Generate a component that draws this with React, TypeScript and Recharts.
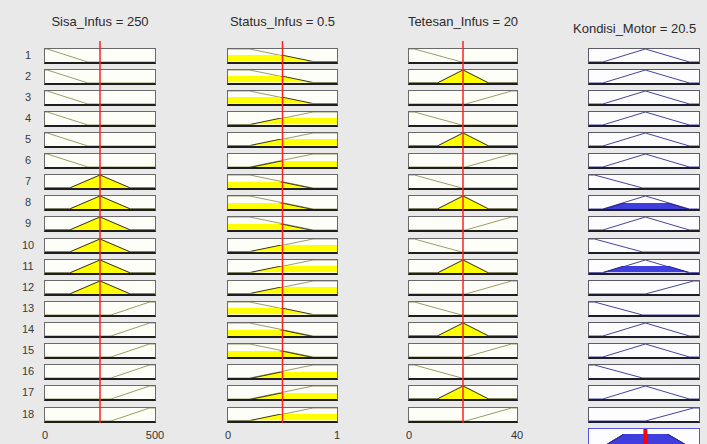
import React from "react";
import { Area, ComposedChart, Line, ReferenceLine, XAxis, YAxis } from "recharts";

type Pt = { x: number; mu: number };
type Fill = { mf: Pt[]; degree: number };

// rule numbers shown on the left
const ruleNumbers = [1, 2, 3, 4, 5, 6, 7, 8, 9, 10, 11, 12, 13, 14, 15, 16, 17, 18];

// Sisa_Infus (0..500)
const sisaRange = [0, 500];
const sisaTicks = [0, 500];
const sisaInput = 250;
const sisaLow: Pt[] = [{ x: 0, mu: 1 }, { x: 10, mu: 1 }, { x: 195, mu: 0 }, { x: 500, mu: 0 }];
const sisaMid: Pt[] = [{ x: 0, mu: 0 }, { x: 112, mu: 0 }, { x: 250, mu: 1 }, { x: 388, mu: 0 }, { x: 500, mu: 0 }];
const sisaHigh: Pt[] = [{ x: 0, mu: 0 }, { x: 300, mu: 0 }, { x: 475, mu: 1 }, { x: 500, mu: 1 }];
const sisaDegree: Record<string, number> = { low: 0, mid: 1, high: 0 };

// Status_Infus (0..1)
const statusRange = [0, 1];
const statusTicks = [0, 1];
const statusInput = 0.5;
const statusLow: Pt[] = [{ x: 0, mu: 1 }, { x: 0.2, mu: 1 }, { x: 0.78, mu: 0 }, { x: 1, mu: 0 }];
const statusHigh: Pt[] = [{ x: 0, mu: 0 }, { x: 0.2, mu: 0 }, { x: 0.78, mu: 1 }, { x: 1, mu: 1 }];
const statusDegree: Record<string, number> = { low: 0.5, high: 0.5 };

// Tetesan_Infus (0..40)
const tetesanRange = [0, 40];
const tetesanTicks = [0, 40];
const tetesanInput = 20;
const tetesanLow: Pt[] = [{ x: 0, mu: 1 }, { x: 2, mu: 1 }, { x: 19.5, mu: 0 }, { x: 40, mu: 0 }];
const tetesanMid: Pt[] = [{ x: 0, mu: 0 }, { x: 10.5, mu: 0 }, { x: 20, mu: 1 }, { x: 29.5, mu: 0 }, { x: 40, mu: 0 }];
const tetesanHigh: Pt[] = [{ x: 0, mu: 0 }, { x: 21, mu: 0 }, { x: 38, mu: 1 }, { x: 40, mu: 1 }];
const tetesanDegree: Record<string, number> = { low: 0, mid: 1, high: 0 };

// Kondisi_Motor (output, 0..40)
const motorRange = [0, 40];
const motorOutput = 20.5;
const motorLow: Pt[] = [{ x: 0, mu: 1 }, { x: 2, mu: 1 }, { x: 19.5, mu: 0 }, { x: 40, mu: 0 }];
const motorMid: Pt[] = [{ x: 0, mu: 0 }, { x: 5, mu: 0 }, { x: 20.5, mu: 1 }, { x: 36.5, mu: 0 }, { x: 40, mu: 0 }];
const motorHigh: Pt[] = [{ x: 0, mu: 0 }, { x: 20.5, mu: 0 }, { x: 38, mu: 1 }, { x: 40, mu: 1 }];

// rule table
const ruleSisa = ["low", "low", "low", "low", "low", "low", "mid", "mid", "mid", "mid", "mid", "mid", "high", "high", "high", "high", "high", "high"];
const ruleStatus = ["low", "low", "low", "high", "high", "high", "low", "low", "low", "high", "high", "high", "low", "low", "low", "high", "high", "high"];
const ruleTetesan = ["low", "mid", "high", "low", "mid", "high", "low", "mid", "high", "low", "mid", "high", "low", "mid", "high", "low", "mid", "high"];
const ruleMotor = ["mid", "mid", "mid", "mid", "mid", "mid", "low", "mid", "mid", "low", "mid", "high", "low", "mid", "mid", "low", "mid", "high"];

const sisaMfs: Record<string, Pt[]> = { low: sisaLow, mid: sisaMid, high: sisaHigh };
const statusMfs: Record<string, Pt[]> = { low: statusLow, high: statusHigh };
const tetesanMfs: Record<string, Pt[]> = { low: tetesanLow, mid: tetesanMid, high: tetesanHigh };
const motorMfs: Record<string, Pt[]> = { low: motorLow, mid: motorMid, high: motorHigh };

const FONT = '"Liberation Sans", Arial, sans-serif';
const BG = "#e9e9e9";
const M0 = { top: 0, right: 0, bottom: 0, left: 0 };
const ROW_TOP = 48.5;
const ROW_PITCH = 21.12;
const BOX_H = 13;

const firing = ruleNumbers.map((_, i) =>
  Math.min(sisaDegree[ruleSisa[i]], statusDegree[ruleStatus[i]], tetesanDegree[ruleTetesan[i]])
);

const inputColumns = [
  { title: "Sisa_Infus = 250", x: 45, w: 110, range: sisaRange, ticks: sisaTicks, input: sisaInput, mfs: sisaMfs, rules: ruleSisa, degrees: sisaDegree },
  { title: "Status_Infus = 0.5", x: 228, w: 109, range: statusRange, ticks: statusTicks, input: statusInput, mfs: statusMfs, rules: ruleStatus, degrees: statusDegree },
  { title: "Tetesan_Infus = 20", x: 409, w: 108, range: tetesanRange, ticks: tetesanTicks, input: tetesanInput, mfs: tetesanMfs, rules: ruleTetesan, degrees: tetesanDegree },
];
const OUT_X = 589;
const OUT_W = 110;

type BoxProps = {
  left: number;
  top: number;
  width: number;
  height: number;
  range: number[];
  lineMf?: Pt[];
  fills: Fill[];
  yMax: number;
  lineColor: string;
  fillColor: string;
  edgeColor: string;
  bg: string;
  border: string;
  borderBottom: string;
  marker?: number;
};

function MfBox(p: BoxProps) {
  return (
    <div
      style={{
        position: "absolute",
        left: p.left - 1,
        top: p.top - 1,
        width: p.width,
        height: p.height,
        background: p.bg,
        borderTop: `1px solid ${p.border}`,
        borderLeft: `1px solid ${p.border}`,
        borderRight: `1px solid ${p.border}`,
        borderBottom: `2px solid ${p.borderBottom}`,
        overflow: "hidden",
      }}
    >
      {p.lineMf && (
        <div style={{ position: "absolute", left: 0, top: 0 }}>
          <ComposedChart width={p.width} height={p.height} data={p.lineMf} margin={M0}>
            <XAxis type="number" dataKey="x" domain={p.range} hide />
            <YAxis domain={[0, p.yMax]} hide />
            <Line type="linear" dataKey="mu" stroke={p.lineColor} strokeWidth={1} dot={false} isAnimationActive={false} />
          </ComposedChart>
        </div>
      )}
      {p.fills
        .filter((f) => f.degree > 0)
        .map((f, k) => {
          const d = Math.min(f.degree, p.yMax);
          const h = (d / p.yMax) * p.height;
          return (
            <div key={k} style={{ position: "absolute", left: 0, top: p.height - h }}>
              <ComposedChart width={p.width} height={h} data={f.mf} margin={M0}>
                <XAxis type="number" dataKey="x" domain={p.range} hide allowDataOverflow />
                <YAxis domain={[0, d]} hide allowDataOverflow />
                <Area type="linear" dataKey="mu" fill={p.fillColor} fillOpacity={1} stroke={p.edgeColor} strokeWidth={1} isAnimationActive={false} />
              </ComposedChart>
            </div>
          );
        })}
      {p.marker !== undefined && (
        <div style={{ position: "absolute", left: 0, top: 0 }}>
          <ComposedChart width={p.width} height={p.height} data={p.range.map((x) => ({ x, y: 0 }))} margin={M0}>
            <XAxis type="number" dataKey="x" domain={p.range} hide />
            <YAxis domain={[0, 1]} hide />
            <Line dataKey="y" stroke="none" dot={false} isAnimationActive={false} />
            <ReferenceLine x={p.marker} stroke="#ff0000" strokeWidth={4} ifOverflow="visible" />
          </ComposedChart>
        </div>
      )}
    </div>
  );
}

const rowTop = (i: number) => ROW_TOP + i * ROW_PITCH;

export default function App() {
  const aggregate: Fill[] = ruleNumbers.map((_, i) => ({ mf: motorMfs[ruleMotor[i]], degree: firing[i] }));
  return (
    <div style={{ position: "absolute", left: 0, top: 0, width: 707, height: 444, background: BG, overflow: "hidden", fontFamily: FONT }}>
      {/* titles */}
      {inputColumns.map((c) => (
        <div key={c.title} style={{ position: "absolute", left: c.x - 40, width: c.w + 80, top: 14, textAlign: "center", fontSize: 13, color: "#2b2b2b" }}>
          {c.title}
        </div>
      ))}
      <div style={{ position: "absolute", left: 573, top: 21, fontSize: 13, color: "#2b2b2b", whiteSpace: "nowrap" }}>
        Kondisi_Motor = 20.5
      </div>

      {/* rule numbers */}
      {ruleNumbers.map((n, i) => (
        <div key={n} style={{ position: "absolute", left: 14, width: 28, top: rowTop(i) - 1, textAlign: "center", fontSize: 11, color: "#3a3a3a", lineHeight: "15px" }}>
          {n}
        </div>
      ))}

      {/* input columns */}
      {inputColumns.map((c) =>
        ruleNumbers.map((n, i) => {
          const mf = c.mfs[c.rules[i]];
          return (
            <MfBox
              key={c.title + n}
              left={c.x}
              top={rowTop(i)}
              width={c.w}
              height={BOX_H}
              range={c.range}
              lineMf={mf}
              fills={[{ mf, degree: c.degrees[c.rules[i]] }]}
              yMax={1}
              lineColor="#9a9a6a"
              fillColor="#ffff00"
              edgeColor="#3c3c20"
              bg="#fefef8"
              border="#6a6a6a"
              borderBottom="#1e1e1e"
            />
          );
        })
      )}

      {/* output column */}
      {ruleNumbers.map((n, i) => (
        <MfBox
          key={"out" + n}
          left={OUT_X}
          top={rowTop(i)}
          width={OUT_W}
          height={BOX_H}
          range={motorRange}
          lineMf={motorMfs[ruleMotor[i]]}
          fills={[{ mf: motorMfs[ruleMotor[i]], degree: firing[i] }]}
          yMax={1}
          lineColor="#44449a"
          fillColor="#3f3fe0"
          edgeColor="#22228a"
          bg="#fdfdff"
          border="#5a5a6a"
          borderBottom="#1e1e2a"
        />
      ))}
      <MfBox
        left={OUT_X}
        top={rowTop(18)}
        width={OUT_W}
        height={18}
        range={motorRange}
        fills={aggregate}
        yMax={0.7}
        lineColor="#44449a"
        fillColor="#3f3fe0"
        edgeColor="#22228a"
        bg="#fdfdff"
        border="#5454e0"
        borderBottom="#5454e0"
        marker={motorOutput}
      />

      {/* input value lines and axes */}
      {inputColumns.map((c) => (
        <div key={c.title + "axis"} style={{ position: "absolute", left: c.x - 20, top: 41 }}>
          <ComposedChart width={c.w + 40} height={403} data={c.range.map((x) => ({ x, y: 0 }))} margin={{ top: 0, right: 20, bottom: 0, left: 20 }}>
            <XAxis
              type="number"
              dataKey="x"
              domain={c.range}
              ticks={c.ticks}
              interval={0}
              axisLine={false}
              tickLine={false}
              height={21}
              tick={{ fontSize: 11, fill: "#333", fontFamily: FONT }}
            />
            <YAxis domain={[0, 1]} hide />
            <Line dataKey="y" stroke="none" dot={false} isAnimationActive={false} />
            <ReferenceLine x={c.input} stroke="#ff2020" strokeWidth={1.5} ifOverflow="visible" />
          </ComposedChart>
        </div>
      ))}
    </div>
  );
}
